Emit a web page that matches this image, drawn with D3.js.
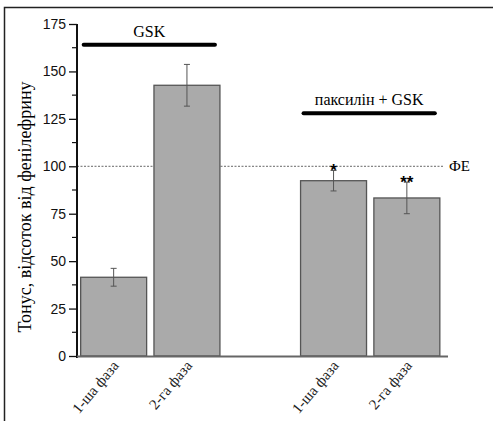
<!DOCTYPE html>
<html>
<head>
<meta charset="utf-8">
<script src="https://cdn.jsdelivr.net/npm/d3@7"></script>
<style>
  body { margin: 0; background: #fff; }
  svg { display: block; }
</style>
</head>
<body>
<div id="chart"></div>
<script>
// categories on the x axis (the empty slot separates the two groups)
const categories = ["1-ша фаза", "2-га фаза", "", "1-ша фаза ", "2-га фаза "];
const values = [41.5, 142.7, null, 92.4, 83.3];
const errors = [4.7, 11.0, null, 5.4, 8.3];
const stars = ["", "", "", "*", "**"];
const yTicks = [0, 25, 50, 75, 100, 125, 150, 175];
const groups = [
    {label: "GSK", from: 0, to: 1, level: 164},
    {label: "паксилін + GSK", from: 3, to: 4, level: 128}
];
const refValue = 100;
const refLabel = "ФЕ";
const yTitle = "Тонус, відсоток від фенілефрину";

const SERIF = "'Liberation Serif', 'Times New Roman', serif";
const SANS = "'Liberation Sans', Arial, sans-serif";

const width = 493, height = 421;
const margin = {top: 24, left: 77, bottom: 65};

const svg = d3.select("#chart").append("svg")
    .attr("width", width)
    .attr("height", height);

// outer frame (top and left edges only)
svg.append("path")
    .attr("d", "M4.5,421 V7.5 H493")
    .attr("fill", "none")
    .attr("stroke", "#222")
    .attr("stroke-width", 1.5);

const x = d3.scaleBand()
    .domain(categories)
    .range([margin.left, margin.left + 366.5])
    .paddingInner(0.1)
    .paddingOuter(0.05);

const y = d3.scaleLinear()
    .domain([0, 175])
    .range([356, margin.top]);

// reference line
svg.append("line")
    .attr("x1", margin.left).attr("x2", 443)
    .attr("y1", y(refValue)).attr("y2", y(refValue))
    .attr("stroke", "#666")
    .attr("stroke-width", 1)
    .attr("stroke-dasharray", "2,1.5");

svg.append("text")
    .attr("x", 449)
    .attr("y", y(refValue) + 5)
    .style("font-family", SERIF)
    .attr("font-size", 15)
    .text(refLabel);

// bars
const barData = categories.map((c, i) => ({c, v: values[i], e: errors[i], s: stars[i]}))
    .filter(d => d.v !== null);

svg.selectAll("rect.bar")
    .data(barData)
    .enter()
    .append("rect")
    .attr("class", "bar")
    .attr("x", d => x(d.c))
    .attr("width", x.bandwidth())
    .attr("y", d => y(d.v))
    .attr("height", d => y(0) - y(d.v))
    .attr("fill", "#aaaaaa")
    .attr("stroke", "#555")
    .attr("stroke-width", 1.3);

// error bars
const eb = svg.selectAll("g.err")
    .data(barData)
    .enter()
    .append("g")
    .attr("class", "err")
    .attr("stroke", "#555")
    .attr("stroke-width", 1);

eb.append("line")
    .attr("x1", d => x(d.c) + x.bandwidth() / 2)
    .attr("x2", d => x(d.c) + x.bandwidth() / 2)
    .attr("y1", d => y(d.v + d.e))
    .attr("y2", d => y(d.v - d.e));
eb.append("line")
    .attr("x1", d => x(d.c) + x.bandwidth() / 2 - 3)
    .attr("x2", d => x(d.c) + x.bandwidth() / 2 + 3)
    .attr("y1", d => y(d.v + d.e))
    .attr("y2", d => y(d.v + d.e));
eb.append("line")
    .attr("x1", d => x(d.c) + x.bandwidth() / 2 - 3)
    .attr("x2", d => x(d.c) + x.bandwidth() / 2 + 3)
    .attr("y1", d => y(d.v - d.e))
    .attr("y2", d => y(d.v - d.e));

// significance stars
svg.selectAll("text.star")
    .data(barData.filter(d => d.s))
    .enter()
    .append("text")
    .attr("class", "star")
    .attr("x", d => x(d.c) + x.bandwidth() / 2)
    .attr("y", d => y(d.v + d.e) + 6)
    .attr("text-anchor", "middle")
    .style("font-family", SANS)
    .attr("font-weight", "bold")
    .attr("font-size", 17)
    .text(d => d.s);

// group labels with bars
groups.forEach(g => {
    const x1 = x(categories[g.from]) + 3;
    const x2 = x(categories[g.to]) + x.bandwidth() - 5;
    svg.append("line")
        .attr("x1", x1).attr("x2", x2)
        .attr("y1", y(g.level)).attr("y2", y(g.level))
        .attr("stroke", "#000")
        .attr("stroke-width", 4)
        .attr("stroke-linecap", "round");
    svg.append("text")
        .attr("x", (x1 + x2) / 2)
        .attr("y", y(g.level) - 8)
        .attr("text-anchor", "middle")
        .style("font-family", SERIF)
        .attr("font-size", 16)
        .text(g.label);
});

// y axis
const yAxis = d3.axisLeft(y)
    .tickValues(yTicks)
    .tickSize(8)
    .tickPadding(3);

const yg = svg.append("g")
    .attr("transform", "translate(" + margin.left + ",0)")
    .call(yAxis);
yg.select(".domain")
    .attr("d", "M0," + (y(175)) + "V" + (y(0) + 2))
    .attr("stroke", "#111")
    .attr("stroke-width", 2);
yg.selectAll(".tick line").attr("stroke", "#111").attr("stroke-width", 1.3);
yg.selectAll(".tick text")
    .style("font-family", SANS)
    .attr("font-size", 14)
    .attr("fill", "#111");

// minor ticks
const minor = d3.range(12.5, 175, 25);
yg.selectAll("line.minor")
    .data(minor)
    .enter()
    .append("line")
    .attr("class", "minor")
    .attr("x1", -5).attr("x2", 0)
    .attr("y1", d => y(d)).attr("y2", d => y(d))
    .attr("stroke", "#111")
    .attr("stroke-width", 1.2);

// x axis line
svg.append("line")
    .attr("x1", margin.left).attr("x2", 448)
    .attr("y1", y(0) + 0.5).attr("y2", y(0) + 0.5)
    .attr("stroke", "#666")
    .attr("stroke-width", 2);

// x tick labels
svg.selectAll("text.xlab")
    .data(barData)
    .enter()
    .append("text")
    .attr("class", "xlab")
    .attr("transform", d => "translate(" + (x(d.c) + x.bandwidth() / 2 + 6) + "," + (y(0) + 10) + ") rotate(-50)")
    .attr("text-anchor", "end")
    .style("font-family", SERIF)
    .attr("font-size", 15)
    .attr("fill", "#222")
    .text(d => d.c.trim());

// y axis title
svg.append("text")
    .attr("transform", "translate(31,207) rotate(-90)")
    .attr("text-anchor", "middle")
    .style("font-family", SERIF)
    .attr("font-size", 18)
    .text(yTitle);
</script>
</body>
</html>
